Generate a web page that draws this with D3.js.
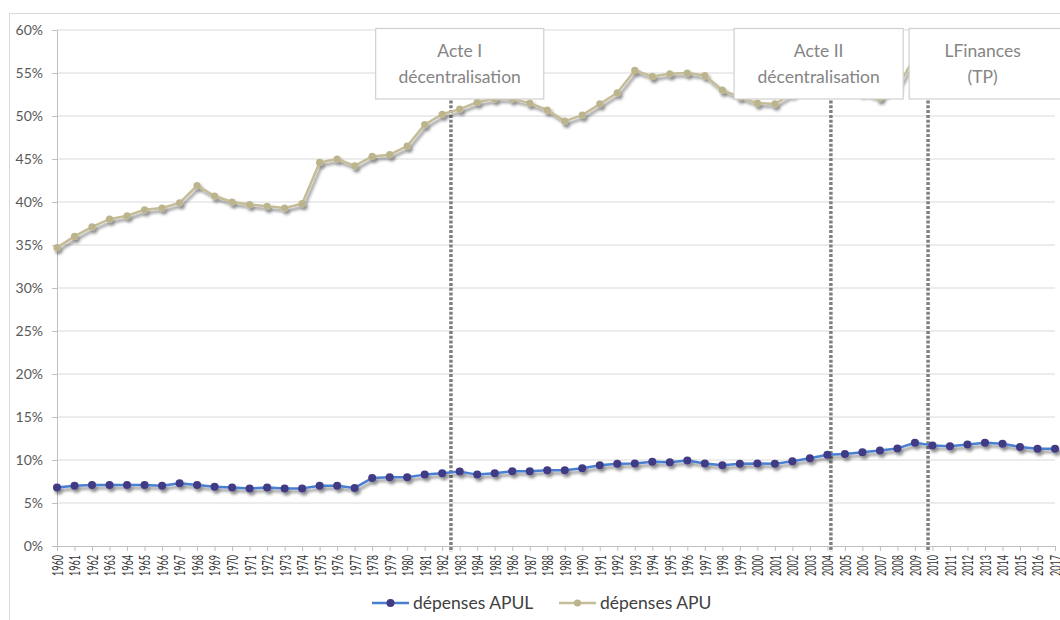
<!DOCTYPE html>
<html>
<head>
<meta charset="utf-8">
<script src="https://cdn.jsdelivr.net/npm/d3@7"></script>
<style>
  body { margin: 0; background: #fff; }
  text { font-family: Lato, "Open Sans", sans-serif; }
</style>
</head>
<body>
<div id="chart"></div>
<script>
// categories
const years = [
  1960, 1961, 1962, 1963, 1964, 1965, 1966, 1967, 1968, 1969,
  1970, 1971, 1972, 1973, 1974, 1975, 1976, 1977, 1978, 1979,
  1980, 1981, 1982, 1983, 1984, 1985, 1986, 1987, 1988, 1989,
  1990, 1991, 1992, 1993, 1994, 1995, 1996, 1997, 1998, 1999,
  2000, 2001, 2002, 2003, 2004, 2005, 2006, 2007, 2008, 2009,
  2010, 2011, 2012, 2013, 2014, 2015, 2016, 2017
];

// dépenses APUL, % du PIB
const apul = [
  6.8, 7.0, 7.1, 7.1, 7.1, 7.1, 7.0, 7.3, 7.1, 6.9,
  6.8, 6.7, 6.8, 6.7, 6.7, 7.0, 7.0, 6.75, 7.9, 8.0,
  8.0, 8.3, 8.45, 8.65, 8.3, 8.45, 8.7, 8.7, 8.8, 8.8,
  9.05, 9.4, 9.55, 9.6, 9.8, 9.75, 9.95, 9.6, 9.4, 9.55,
  9.6, 9.55, 9.85, 10.2, 10.6, 10.7, 10.9, 11.1, 11.35, 12.0,
  11.7, 11.6, 11.8, 12.0, 11.9, 11.5, 11.3, 11.3
];

// dépenses APU, % du PIB
const apu = [
  34.7, 36.0, 37.1, 38.0, 38.4, 39.1, 39.3, 39.9, 41.9, 40.7,
  40.0, 39.7, 39.5, 39.3, 39.8, 44.6, 45.0, 44.2, 45.3, 45.5,
  46.5, 49.0, 50.2, 50.8, 51.6, 52.0, 52.0, 51.5, 50.7, 49.4,
  50.1, 51.4, 52.7, 55.3, 54.6, 54.9, 55.0, 54.7, 53.0, 52.2,
  51.5, 51.4, 52.6, 53.3, 53.2, 53.4, 52.7, 52.1, 53.3, 56.9,
  56.6, 55.9, 56.8, 57.1, 57.1, 56.7, 56.5, 56.4
];

const yTicks = [0, 5, 10, 15, 20, 25, 30, 35, 40, 45, 50, 55, 60];

// event markers (dotted verticals) and their label boxes
const eventYears = [1982.5, 2004.2, 2009.75];
const eventLabels = [["Acte I", "décentralisation"], ["Acte II", "décentralisation"], ["LFinances", "(TP)"]];
const eventBoxSpans = [[1978.2, 1987.8], [1998.67, 2008.33], [2008.67, 2017.4]];

const seriesNames = ["dépenses APUL", "dépenses APU"];

const W = 1060, H = 620;
const plot = { left: 57, right: 1055, top: 30, bottom: 546 };

const svg = d3.select("#chart").append("svg")
  .attr("width", W)
  .attr("height", H);

const defs = svg.append("defs");
const shadow = defs.append("filter")
  .attr("id", "shadow")
  .attr("x", "-5%").attr("y", "-20%")
  .attr("width", "110%").attr("height", "160%");
shadow.append("feDropShadow")
  .attr("dx", 2).attr("dy", 3)
  .attr("stdDeviation", 1.8)
  .attr("flood-color", "#000")
  .attr("flood-opacity", 0.45);

// outer chart frame
svg.append("rect")
  .attr("x", 9.5).attr("y", 13.5)
  .attr("width", W).attr("height", H)
  .attr("fill", "#fff")
  .attr("stroke", "#d9d9d9");

const x = d3.scaleLinear()
  .domain([years[0], years[years.length - 1]])
  .range([plot.left, plot.right]);

const y = d3.scaleLinear()
  .domain([0, 60])
  .range([plot.bottom, plot.top]);

// gridlines
svg.append("g")
  .selectAll("line")
  .data(yTicks.filter(d => d > 0))
  .enter()
  .append("line")
  .attr("x1", plot.left).attr("x2", plot.right)
  .attr("y1", d => y(d)).attr("y2", d => y(d))
  .attr("stroke", "#d9d9d9")
  .attr("stroke-width", 1);

// y axis
const yAxis = svg.append("g")
  .attr("transform", `translate(${plot.left},0)`)
  .call(d3.axisLeft(y).tickValues(yTicks).tickSize(5).tickPadding(9).tickFormat(d => d + "%"));
yAxis.select(".domain").attr("stroke", "#bfbfbf");
yAxis.selectAll(".tick line").attr("stroke", "#bfbfbf");
yAxis.selectAll(".tick text")
  .attr("fill", "#595959")
  .attr("font-size", 14)
  .attr("font-family", "Lato, sans-serif");

// x axis
const xAxis = svg.append("g")
  .attr("transform", `translate(0,${plot.bottom})`)
  .call(d3.axisBottom(x).tickValues(years).tickSize(5).tickFormat(d3.format("d")));
xAxis.select(".domain").attr("stroke", "#bfbfbf");
xAxis.selectAll(".tick line").attr("stroke", "#bfbfbf");
xAxis.selectAll(".tick text")
  .attr("fill", "#333")
  .attr("font-size", 15)
  .attr("font-family", "Lato, sans-serif")
  .attr("text-anchor", "end")
  .attr("transform", "rotate(-90)")
  .attr("x", -9)
  .attr("y", 0)
  .attr("dy", "0.36em")
  .attr("textLength", 21)
  .attr("lengthAdjust", "spacingAndGlyphs");

// dotted event lines
svg.append("g")
  .selectAll("line")
  .data(eventYears)
  .enter()
  .append("line")
  .attr("x1", d => x(d)).attr("x2", d => x(d))
  .attr("y1", y(51.8)).attr("y2", plot.bottom + 6)
  .attr("stroke", "#7f7f7f")
  .attr("stroke-width", 3.5)
  .attr("stroke-dasharray", "3,1.8");

// series
const line = d3.line()
  .x((d, i) => x(years[i]))
  .y(d => y(d));

function drawSeries(values, lineColor, markerColor, r) {
  const g = svg.append("g").attr("filter", "url(#shadow)");
  g.append("path")
    .datum(values)
    .attr("d", line)
    .attr("fill", "none")
    .attr("stroke", lineColor)
    .attr("stroke-width", 2.5)
    .attr("stroke-linejoin", "round");
  g.selectAll("circle")
    .data(values)
    .enter()
    .append("circle")
    .attr("cx", (d, i) => x(years[i]))
    .attr("cy", d => y(d))
    .attr("r", r)
    .attr("fill", markerColor);
}

drawSeries(apu, "#c4bd97", "#bcb48c", 3.6);
drawSeries(apul, "#4a7fd0", "#3f3b84", 4.0);

// annotation boxes
const boxTop = 28.5, boxBottom = 99;
const boxes = svg.append("g")
  .selectAll("g")
  .data(eventLabels)
  .enter()
  .append("g");

boxes.append("rect")
  .attr("x", (d, i) => x(eventBoxSpans[i][0]))
  .attr("y", boxTop)
  .attr("width", (d, i) => x(eventBoxSpans[i][1]) - x(eventBoxSpans[i][0]))
  .attr("height", boxBottom - boxTop)
  .attr("fill", "#fff")
  .attr("stroke", "#d0d0d0")
  .attr("stroke-width", 1.2);

boxes.each(function(d, i) {
  const cx = (x(eventBoxSpans[i][0]) + x(eventBoxSpans[i][1])) / 2;
  d3.select(this).selectAll("text")
    .data(d)
    .enter()
    .append("text")
    .attr("x", i === 2 ? cx - 3 : cx)
    .attr("y", (t, j) => 57 + j * 26)
    .attr("text-anchor", "middle")
    .attr("font-size", 17.5)
    .attr("fill", "#858585")
    .text(t => t);
});

// legend
const legend = svg.append("g");
const legendItems = [
  { name: seriesNames[0], x0: 372, line: "#4a7fd0", marker: "#3f3b84", r: 4.0 },
  { name: seriesNames[1], x0: 559, line: "#c4bd97", marker: "#bcb48c", r: 3.6 }
];
const ly = 603;
legendItems.forEach(it => {
  legend.append("line")
    .attr("x1", it.x0).attr("x2", it.x0 + 37)
    .attr("y1", ly).attr("y2", ly)
    .attr("stroke", it.line)
    .attr("stroke-width", 2.5);
  legend.append("circle")
    .attr("cx", it.x0 + 18.5).attr("cy", ly)
    .attr("r", it.r)
    .attr("fill", it.marker);
  legend.append("text")
    .attr("x", it.x0 + 41)
    .attr("y", ly + 6)
    .attr("font-size", 17.5)
    .attr("fill", "#404040")
    .text(it.name);
});
</script>
</body>
</html>
